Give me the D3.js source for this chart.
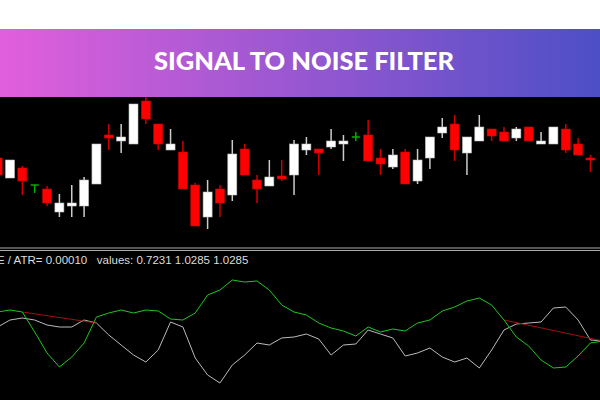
<!DOCTYPE html>
<html><head><meta charset="utf-8">
<script src="https://cdn.jsdelivr.net/npm/d3@7"></script>
<style>body{margin:0;background:#000}svg{display:block}</style>
</head><body>
<script>
// price values (arbitrary units, higher = up)
const opens  = [92,72,82,65,61,38,44,44,66,115,109,106,149,126,100,98,65,33,61,55,101,70,64,74,75,100,101,103,106,113,115,92,83,98,69,92,117,126,97,109,121,118,112,123,106,106,121,106,92];
const closes = [75,90,69,65,47,47,47,70,106,112,113,146,131,106,106,61,24,58,47,96,75,61,73,71,106,106,97,109,109,113,89,86,95,66,90,113,123,100,113,123,114,109,121,109,109,123,100,95,90];
const highs  = [92,90,84,65,64,56,65,73,106,126,126,146,153,126,121,109,67,70,65,110,106,75,90,90,110,113,101,121,115,118,130,101,101,101,101,113,132,135,113,135,121,123,123,123,118,123,126,112,95];
const lows   = [75,72,55,57,44,33,33,33,66,100,97,106,126,100,100,61,24,21,33,49,75,47,64,69,55,95,75,101,89,109,89,75,81,66,66,81,112,89,75,109,109,109,109,109,106,106,97,95,78];
const green  = [88,90,88,68,47,33,43,57,83,87,90,87,90,89,81,80,87,105,110,120,118,119,110,95,88,85,77,72,69,64,73,68,71,69,77,80,89,93,99,102,95,80,63,54,40,32,33,44,57,59];
const gray   = [73,80,82,80,75,73,73,80,77,65,55,45,38,50,78,73,42,25,17,35,45,57,55,62,63,66,61,45,55,56,70,66,62,44,47,52,43,38,42,32,50,70,76,77,78,92,93,80,60,59];
const redSegs = [[2,8],[41,49]];
const title = "SIGNAL TO NOISE FILTER";
const info = "E / ATR= 0.00010   values: 0.7231 1.0285 1.0285";

const W=600,H=400;
const svg=d3.select("body").append("svg").attr("width",W).attr("height",H);
const defs=svg.append("defs");
const g=defs.append("linearGradient").attr("id","bn");
g.append("stop").attr("offset","0%").attr("stop-color","#e25fdc");
g.append("stop").attr("offset","100%").attr("stop-color","#4d4fc6");
svg.append("rect").attr("width",W).attr("height",H).attr("fill","#000");
svg.append("rect").attr("width",W).attr("height",29).attr("fill","#fff");
svg.append("rect").attr("y",29).attr("width",W).attr("height",68).attr("fill","url(#bn)");
svg.append("text").attr("x",304).attr("y",70).attr("text-anchor","middle").attr("fill","#fff")
  .attr("font-family","Lato, 'Open Sans', sans-serif").attr("font-weight",900).attr("font-size",25.5).text(title);

const x=d3.scaleLinear().domain([1,2]).range([10,22.35]);
const y=d3.scaleLinear().domain([0,150]).range([250,100]);
const yi=d3.scaleLinear().domain([0,100]).range([400,300]);

const c=svg.append("g");
opens.forEach((o,i)=>{
  const cl=closes[i], up=cl>o, doji=Math.abs(cl-o)<0.5;
  const col=doji?"#00b000":(up?"#fff":"#ff0000");
  const wcol=doji?"#00b000":(up?"#ccc":"#d00000");
  c.append("line").attr("x1",x(i)).attr("x2",x(i)).attr("y1",y(highs[i])).attr("y2",y(lows[i])).attr("stroke",wcol).attr("stroke-width",1.5);
  if(doji){
    c.append("line").attr("x1",x(i)-4).attr("x2",x(i)+4).attr("y1",y(o)).attr("y2",y(o)).attr("stroke",col).attr("stroke-width",1.5);
  } else {
    const t=y(Math.max(o,cl)),b=y(Math.min(o,cl));
    c.append("rect").attr("x",x(i)-4.5).attr("width",9).attr("y",t).attr("height",Math.max(b-t,2)).attr("fill",col).attr("stroke",up?"#bbb":"#c00000").attr("stroke-width",0.6);
  }
});

svg.append("line").attr("x1",0).attr("x2",W).attr("y1",248).attr("y2",248).attr("stroke","#aaa");
svg.append("line").attr("x1",0).attr("x2",W).attr("y1",250.5).attr("y2",250.5).attr("stroke","#aaa");
svg.append("text").attr("x",-3).attr("y",264).attr("fill","#ddd").attr("font-family","'Liberation Sans', Arial, sans-serif")
  .attr("font-size",11.5).style("white-space","pre").text(info);

const ln=d3.line().x((d,i)=>x(i)).y(d=>yi(d));
svg.append("path").attr("d",ln(gray)).attr("fill","none").attr("stroke","#bbb").attr("stroke-width",1);
redSegs.forEach(([a,b])=>{
  svg.append("line").attr("x1",x(a)).attr("y1",yi(green[a])).attr("x2",x(b)).attr("y2",yi(b===49?59:gray[b]))
   .attr("stroke","#a01010").attr("stroke-width",1);
});
svg.append("path").attr("d",ln(green)).attr("fill","none").attr("stroke","#1ec81e").attr("stroke-width",1);
</script>
</body></html>
